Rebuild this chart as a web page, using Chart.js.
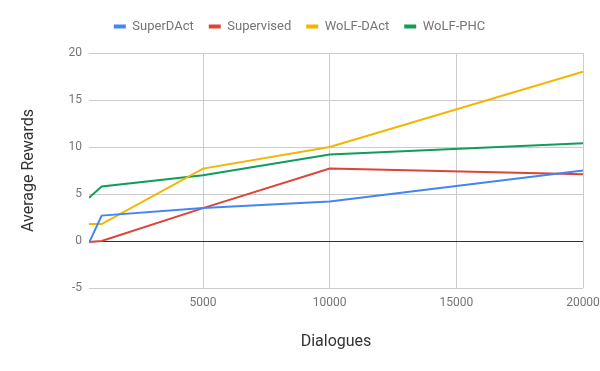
<!DOCTYPE html>
<html>
<head>
<meta charset="utf-8">
<script src="https://cdn.jsdelivr.net/npm/chart.js@4"></script>
<style>
  html, body { margin: 0; padding: 0; background: #fff; }
  #wrap { width: 600px; height: 371px; }
</style>
</head>
<body>
<div id="wrap"><canvas id="chart"></canvas></div>
<script>
// Average rewards vs dialogues — line chart

const dialogues = [500, 1000, 5000, 10000, 20000];
const superDAct = [-0.2, 2.7, 3.5, 4.2, 7.5];
const supervised = [-0.1, 0, 3.5, 7.7, 7.1];
const wolfDAct = [1.8, 1.8, 7.7, 10.0, 18.0];
const wolfPHC = [4.6, 5.8, 7.0, 9.2, 10.4];
const xTicks = [5000, 10000, 15000, 20000];

const FONT = "Roboto";

const pts = (ys) => dialogues.map((x, i) => ({ x, y: ys[i] }));

function series(label, ys, color) {
  return {
    label,
    data: pts(ys),
    borderColor: color,
    backgroundColor: color,
    borderWidth: 2,
    pointRadius: 0,
    tension: 0,
  };
}

// legend box gets a fixed height so the plot starts where it does in the picture
const legendHeight = {
  id: "legendHeight",
  beforeLayout(chart) {
    const lg = chart.legend;
    if (lg && !lg._patched) {
      const fit = lg.fit;
      lg.fit = function () {
        fit.call(this);
        this.height = 48;
      };
      lg._patched = true;
    }
  },
};

new Chart(document.getElementById("chart"), {
  type: "line",
  data: {
    datasets: [
      series("SuperDAct", superDAct, "#4285F4"),
      series("Supervised", supervised, "#DB4437"),
      series("WoLF-DAct", wolfDAct, "#F4B400"),
      series("WoLF-PHC", wolfPHC, "#0F9D58"),
    ],
  },
  options: {
    responsive: true,
    maintainAspectRatio: false,
    animation: false,
    layout: { padding: { top: 5, right: 17, bottom: 0, left: 16 } },
    plugins: {
      legend: {
        position: "top",
        labels: {
          boxWidth: 12,
          boxHeight: 4,
          padding: 15,
          color: "#757575",
          font: { family: FONT, size: 13 },
          generateLabels(chart) {
            const items = Chart.defaults.plugins.legend.labels.generateLabels(chart);
            items.forEach((it) => { it.lineWidth = 0; });
            return items;
          },
        },
      },
      tooltip: { enabled: false },
    },
    scales: {
      x: {
        type: "linear",
        min: 500,
        max: 20000,
        afterBuildTicks: (s) => { s.ticks = xTicks.map((v) => ({ value: v })); },
        afterFit: (s) => {
          s.height = 83;
          // last label may hang past the plot, as in the picture
          s.paddingRight = 0;
          s.paddingLeft = 0;
        },
        border: { display: false },
        grid: { color: "#cccccc", drawTicks: false },
        ticks: {
          padding: 8,
          color: "#757575",
          font: { family: FONT, size: 12 },
          callback: (v) => String(v),
        },
        title: {
          display: true,
          text: "Dialogues",
          color: "#333333",
          font: { family: FONT, size: 16 },
          padding: { top: 0, bottom: 19 },
        },
      },
      y: {
        min: -5,
        max: 20,
        afterFit: (s) => { s.width = 73; },
        border: { display: false },
        grid: {
          drawTicks: false,
          color: (ctx) => (ctx.tick && ctx.tick.value === 0 ? "#333333" : "#cccccc"),
        },
        ticks: {
          stepSize: 5,
          padding: 7,
          color: "#757575",
          font: { family: FONT, size: 12 },
        },
        title: {
          display: true,
          text: "Average Rewards",
          color: "#333333",
          font: { family: FONT, size: 16 },
          padding: { top: 3, bottom: 0 },
        },
      },
    },
  },
  plugins: [legendHeight],
});
</script>
</body>
</html>
